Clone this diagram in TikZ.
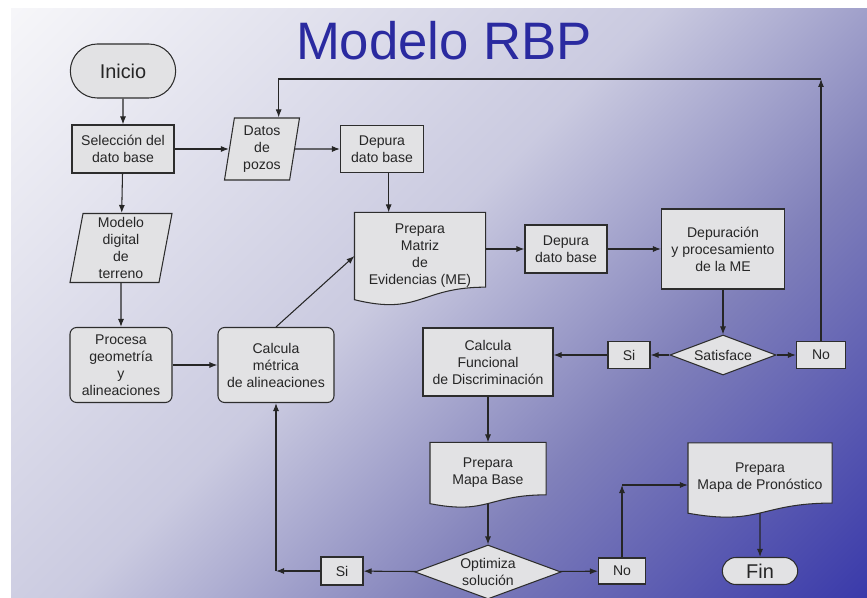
\documentclass[tikz,border=0pt]{standalone}
\usepackage{fontspec}
\setmainfont{Liberation Sans}
\usepackage{tikz}
\usetikzlibrary{shapes,arrows,positioning,calc,arrows.meta}
\definecolor{titleblue}{RGB}{42,42,160}
\definecolor{boxfill}{RGB}{226,226,228}
\definecolor{boxline}{RGB}{45,45,45}
\definecolor{bgA}{RGB}{246,246,249}
\definecolor{bgB}{RGB}{202,202,224}
\definecolor{bgC}{RGB}{128,128,186}
\definecolor{bgD}{RGB}{58,58,170}
\pgfdeclareverticalshading{slidebg}{100bp}{color(0bp)=(bgD); color(14.6bp)=(bgD);
    color(35.8bp)=(bgC); color(53.5bp)=(bgB); color(85.4bp)=(bgA); color(100bp)=(bgA)}
\pgfdeclarelayer{bg}
\pgfdeclarelayer{docs}
\pgfsetlayers{bg,docs,main}

\begin{document}
\begin{tikzpicture}[x=0.03cm, y=-0.03cm, >={Latex[length=2.4mm,width=1.8mm]},
    flowbox/.style={draw=boxline, fill=boxfill, line width=0.9pt, align=center,
        font=\fontsize{12}{14.5}\selectfont, text=black!85, inner sep=2pt},
    proc/.style={flowbox, rectangle},
    rproc/.style={flowbox, rectangle, rounded corners=0.2cm},
    io/.style={flowbox, trapezium, trapezium left angle=78, trapezium right angle=102,
        trapezium stretches body, inner sep=0pt},
    doc/.style={flowbox, draw=none, fill=none},
    dec/.style={flowbox, diamond, shape aspect=2.7, inner sep=0pt},
    term/.style={flowbox, rounded rectangle, font=\fontsize{17}{20}\selectfont},
    arr/.style={->, line width=0.9pt, draw=black!85}]
    \useasboundingbox (0,0) rectangle (867,598);

    % Background
    \begin{pgfonlayer}{bg}
        \fill[white] (0,0) rectangle (867,598);
        \shade[shading=slidebg, shading angle=45] (11,9) rectangle (867,598);
    \end{pgfonlayer}

    % Title
    \node [font=\fontsize{45}{50}\selectfont, text=titleblue, anchor=base] (title) at (444,60) {Modelo RBP};

    % Nodes
    \node [term, minimum width=3.3cm, minimum height=1.62cm] (inicio) at (123,71) {Inicio};
    \node [proc, minimum width=3.06cm, minimum height=1.44cm] (sel) at (123,149) {Selección del\\dato base};
    \node [io, minimum width=2.25cm, minimum height=1.86cm] (datos) at (262,149) {Datos\\de\\pozos};
    \node [proc, minimum width=2.49cm, minimum height=1.41cm] (dep1) at (382,149) {Depura\\dato base};
    \node [io, minimum width=3.06cm, minimum height=2.07cm] (modelo) at (121,248) {Modelo\\digital\\de\\terreno};
    \node [rproc, minimum width=3.06cm, minimum height=2.25cm] (procesa) at (121,365) {Procesa\\geometría\\y\\alineaciones};
    \node [rproc, minimum width=3.48cm, minimum height=2.25cm] (metrica) at (276,365) {Calcula\\métrica\\de alineaciones};
    \node [doc, minimum width=3.9cm, minimum height=2.58cm] (matriz) at (420,256) {Prepara\\Matriz\\de\\Evidencias (ME)};
    \node [proc, minimum width=2.46cm, minimum height=1.44cm] (dep2) at (566,249) {Depura\\dato base};
    \node [proc, minimum width=3.69cm, minimum height=2.4cm] (depur) at (723,249) {Depuración\\y procesamiento\\de la ME};
    \node [dec, minimum width=3.18cm, minimum height=1.2cm] (satis) at (723,355) {Satisface};
    \node [proc, minimum width=1.47cm, minimum height=0.81cm] (noA) at (821,355) {No};
    \node [proc, minimum width=1.26cm, minimum height=0.81cm] (siA) at (629,355) {Si};
    \node [proc, minimum width=3.9cm, minimum height=2.04cm] (funcional) at (488,362) {Calcula\\Funcional\\de Discriminación};
    \node [doc, minimum width=3.45cm, minimum height=1.8cm] (mapabase) at (488,473) {Prepara\\Mapa Base};
    \node [dec, minimum width=4.38cm, minimum height=1.62cm] (optim) at (488,572) {Optimiza\\solución};
    \node [proc, minimum width=1.41cm, minimum height=0.78cm] (noB) at (622,571) {No};
    \node [proc, minimum width=1.26cm, minimum height=0.84cm] (siB) at (342,571) {Si};
    \node [doc, minimum width=4.29cm, minimum height=2.07cm] (pronos) at (760,478) {Prepara\\Mapa de Pronóstico};
    \node [term, minimum width=2.4cm, minimum height=0.81cm] (fin) at (760,571) {Fin};

    % Document outlines
    \begin{pgfonlayer}{docs}
        \foreach \d in {matriz,mapabase,pronos}
            \draw [draw=boxline, fill=boxfill, line width=0.9pt] (\d.north west) -- (\d.north east)
                -- ($(\d.north east)!0.858!(\d.south east)$)
                .. controls ($(\d.north)!0.858!(\d.south)$) and ($(\d.north)!1.188!(\d.south)$)
                .. ($(\d.north west)!1.002!(\d.south west)$) -- cycle;
    \end{pgfonlayer}

    % Corners
    \coordinate (upr) at (821,79);
    \coordinate (lowl) at (276,571);
    \coordinate (lowr) at (622,485);

    % Connections
    \draw [arr] (inicio) -- (sel);
    \draw [arr] (sel) -- (datos);
    \draw [arr] (datos) -- (dep1);
    \draw [arr] (sel) -- (modelo);
    \draw [arr] (modelo) -- (procesa);
    \draw [arr] (procesa) -- (metrica);
    \draw [arr] (metrica.north) -- (matriz.west);
    \draw [arr] ([xshift=0.2cm]dep1.south) -- ([xshift=0.2cm]dep1.south |- matriz.north);
    \draw [arr] (matriz.east |- dep2.west) -- (dep2.west);
    \draw [arr] (dep2) -- (depur);
    \draw [arr] (depur) -- (satis);
    \draw [arr] (satis) -- (noA);
    \draw [arr] (satis) -- (siA);
    \draw [arr] (siA.west) -- (siA.west -| funcional.east);
    \draw [arr] (noA) -- (upr);
    \draw [arr] (upr) -| ([xshift=0.5cm]datos.north);
    \draw [arr] (funcional) -- (mapabase);
    \draw [arr] (mapabase) -- (optim);
    \draw [arr] (optim) -- (noB);
    \draw [arr] (optim) -- (siB);
    \draw [arr] (siB) -- (lowl);
    \draw [arr] (lowl) -- (metrica);
    \draw [arr] (noB) -- (lowr);
    \draw [arr] (lowr) -- (lowr -| pronos.west);
    \draw [arr] (pronos) -- (fin);
\end{tikzpicture}
\end{document}
